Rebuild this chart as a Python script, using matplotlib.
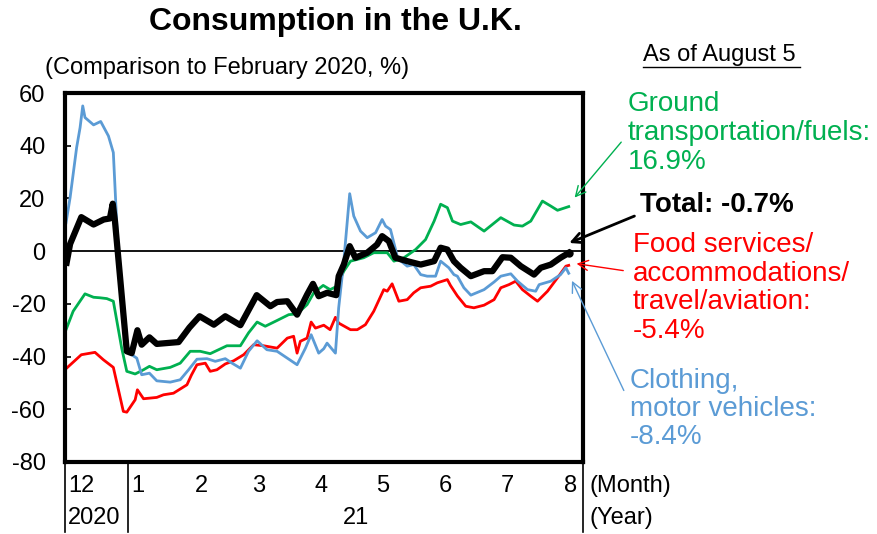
import matplotlib
matplotlib.use("Agg")
import matplotlib.pyplot as plt
from matplotlib.lines import Line2D

plt.rcParams['font.family'] = ['Liberation Sans', 'DejaVu Sans']
plt.rcParams['axes.unicode_minus'] = False

# days counted from 2020-12-01, values in % vs Feb 2020
total_days = [0.8, 2.5, 8, 14, 19, 22, 23.4, 24.5, 30.3, 32.7, 35.5, 37.6, 41.4, 45, 55.7, 61, 66, 73, 78.6, 86,
              94, 100.7, 104, 109, 113.8, 118.7, 121.6, 124.4, 128.5, 133, 134.2, 136.7, 139.6, 142.4, 148.2, 153,
              155.5, 158.8, 162, 167.8, 174.4, 181, 184.2, 187.5, 190.7, 194, 199, 205.5, 209.6, 214.5, 218.6,
              223.5, 230, 233.3, 238.2, 243, 247]
total_vals = [-4.4, 2.7, 12.9, 10.1, 12, 12.4, 18, 11.4, -38, -38.7, -30, -35.5, -32.7, -35.2, -34.5, -29, -24.7,
              -27.9, -24.7, -28.1, -16.7, -20.9, -19.3, -19, -24.1, -16.5, -12.4, -17.1, -15.8, -16.7, -9.5, -5.1,
              1.9, -2.5, -0.6, 2.5, 5.7, 3.8, -2.5, -3.8, -5.1, -3.8, 1.3, 0.6, -3.8, -6.3, -9.5, -7.6, -7.6, -2.3,
              -2.5, -5.7, -8.9, -6.3, -5.1, -2.5, -0.7]

ground_days = [0.5, 4, 9.8, 14, 17.2, 20.5, 23.7, 27.8, 30.3, 34.4, 38.5, 41.4, 45, 51.6, 56.5, 61.4, 66.3, 71.2,
               79.4, 86, 90, 94.2, 98.2, 104, 109.7, 113.8, 118.7, 122, 126.6, 130, 133.4, 136.7, 140, 146.5,
               151.4, 158, 161.3, 166.2, 171.9, 176.8, 181, 184.2, 187.5, 190, 194, 199, 205.5, 213.7, 220.2,
               224.3, 228.4, 234.1, 238.2, 241.5, 247]
ground_vals = [-29.8, -22.8, -16.2, -17.5, -17.7, -18, -19, -36.8, -45.6, -46.6, -45, -43.7, -45, -44.1, -42.5,
               -38, -38, -38.9, -35.9, -35.9, -31, -26.9, -28.5, -26.3, -24.1, -23.8, -20.3, -15.8, -13, -14.6,
               -13.3, -7.6, -3.8, -2.5, -0.6, -0.6, -3.8, -2.5, 0.6, 4.4, 11.4, 17.8, 16.5, 11.4, 10.1, 11.1, 7.6,
               12.7, 9.9, 9.5, 11.4, 19, 17.1, 15.5, 16.9]

food_days = [0.5, 8, 14.7, 18.8, 23.7, 28.6, 30.3, 34.4, 35.5, 38.5, 45, 48.3, 53.2, 59.8, 62, 64.7, 68.8, 71.2,
             74.5, 78.6, 82.7, 87.6, 92.5, 97.4, 104, 109, 112.1, 113.8, 115.4, 118.7, 120.7, 122.8, 126.9, 130,
             132.6, 134.2, 140, 143.3, 147.3, 151.4, 156.3, 158, 160.4, 163.7, 167.8, 171, 174.4, 179.3, 182.6,
             187.5, 189, 192.4, 196.5, 200.5, 205.5, 210.4, 213.7, 217.7, 221, 224.3, 228.4, 231.7, 236.6, 241.5,
             245.6, 247]
food_vals = [-44.6, -39.3, -38.4, -41.2, -44.1, -60.8, -61.1, -56.4, -52.6, -56, -55.5, -54.5, -53.9, -50.7, -47,
             -43.1, -42.5, -45.6, -45, -42.8, -41.6, -39.3, -35.5, -35.9, -36.8, -33, -32.3, -38.7, -34.2, -33,
             -26.9, -29.2, -28.1, -29.8, -25.1, -27.3, -29.8, -29.8, -27.9, -22.8, -14.6, -15.2, -12.4, -19, -18.4,
             -15.8, -13.9, -13.3, -12, -10.8, -13, -17, -20.9, -21.5, -20.5, -18.4, -13.9, -12.7, -11.4, -14.6,
             -17.1, -19, -15.2, -10.1, -5.7, -5.4]

cloth_days = [0.5, 2.5, 5.7, 7.4, 8.7, 9.8, 14, 17.5, 21.3, 23.7, 25.4, 27.8, 30.3, 32.7, 35.2, 37.6, 41.4, 45,
              51.6, 56.5, 60.6, 64.7, 69.6, 73.7, 78.6, 81.9, 86, 90, 94.2, 99, 104, 109, 113.8, 117.9, 120.7,
              124.4, 126.9, 128.5, 132.6, 134.2, 136.7, 139.6, 141.6, 144.9, 148.2, 152.3, 155.5, 157.2, 159.6,
              163.2, 167.8, 171, 174.4, 177.6, 181.7, 184.2, 188.2, 190.7, 192.4, 195.6, 199, 205.5, 210.4, 213.7,
              218.6, 221.9, 226.8, 230.8, 232.5, 238.2, 243, 245.6, 247]
cloth_vals = [10.8, 20.3, 39.3, 46.9, 55.1, 50.7, 47.9, 49.2, 43.7, 37.4, 10.1, -21.5, -35.5, -39.3, -40.6, -46.9,
              -46.3, -49.2, -49.7, -48.8, -45, -41, -40.8, -41.8, -40.8, -42.5, -44.4, -38, -34, -37.4, -38, -40.6,
              -43.1, -36.8, -31.7, -38.7, -37, -34.9, -38.7, -21.5, -3.8, 21.8, 13.3, 7.6, 5.1, 7, 12, 9.5, 8.2,
              -2.8, -5.7, -5.1, -8.9, -9.5, -9.5, -3.8, -6.3, -8.9, -9.5, -13.9, -16.7, -14.6, -11.7, -9.5, -8.6,
              -11.4, -14.6, -15.2, -12.7, -11.4, -8.9, -6.3, -8.4]

month_starts = [0, 31, 62, 90, 121, 151, 182, 212, 243]
month_labels = ['12', '1', '2', '3', '4', '5', '6', '7', '8']

GREEN = '#00B050'
RED = '#FF0000'
BLUE = '#5B9BD5'

fig = plt.figure(figsize=(8.77, 5.34), dpi=100)
ax = fig.add_axes([65/877, 1-462/534, (583-65)/877, (462-93)/534])

ax.axhline(0, color='black', lw=1.3, zorder=1)
ax.plot(ground_days, ground_vals, color=GREEN, lw=2)
ax.plot(food_days, food_vals, color=RED, lw=2)
ax.plot(cloth_days, cloth_vals, color=BLUE, lw=2)
ax.plot(total_days, total_vals, color='black', lw=4.5, solid_joinstyle='round')
ax.plot(total_days[-1:], total_vals[-1:], 'o', color='black', ms=5)

ax.set_xlim(0, 254)
ax.set_ylim(-80, 60)
ax.set_yticks(range(-80, 61, 20))
ax.tick_params(axis='y', direction='in', length=4, width=1.2, labelsize=17, pad=14)
ax.set_xticks([])
for s in ax.spines.values():
    s.set_linewidth(3)

trans = ax.get_xaxis_transform()
for d, lab in zip(month_starts, month_labels):
    ax.text(d + 1.5, -0.065, lab, transform=trans, ha='left', va='center', fontsize=17)
ax.text(257, -0.065, '(Month)', transform=trans, ha='left', va='center', fontsize=17)
ax.text(1.5, -0.152, '2020', transform=trans, ha='left', va='center', fontsize=17)
ax.text((31 + 254) / 2, -0.152, '21', transform=trans, ha='center', va='center', fontsize=17)
ax.text(257, -0.152, '(Year)', transform=trans, ha='left', va='center', fontsize=17)
for d in [0, 31, 254]:
    ax.plot([d, d], [0, -0.19], transform=trans, color='black', lw=1.2, clip_on=False)

fig.text(335/877, 1-22/534, 'Consumption in the U.K.', ha='center', va='center', fontsize=23, fontweight='bold')
fig.text(45/877, 1-68/534, '(Comparison to February 2020, %)', ha='left', va='center', fontsize=17)
fig.text(643/877, 1-55/534, 'As of August 5', ha='left', va='center', fontsize=17)
fig.add_artist(Line2D([643/877, 800/877], [1-67/534, 1-67/534], color='black', lw=1))

fig.text(628/877, 1-133/534, 'Ground\ntransportation/fuels:\n16.9%', ha='left', va='center',
         fontsize=20, color=GREEN, linespacing=1.17)
fig.text(640/877, 1-205/534, 'Total: -0.7%', ha='left', va='center', fontsize=20, fontweight='bold')
fig.text(633/877, 1-288/534, 'Food services/\naccommodations/\ntravel/aviation:\n-5.4%', ha='left',
         va='center', fontsize=20, color=RED, linespacing=1.12)
fig.text(630/877, 1-409/534, 'Clothing,\nmotor vehicles:\n-8.4%', ha='left', va='center',
         fontsize=20, color=BLUE, linespacing=1.1)

arrows = [((249, 19.5), (623, 140), GREEN, 1),
          ((246, 2.7), (637, 215), 'black', 2),
          ((249.5, -4.6), (626, 271), RED, 1),
          ((248, -10.3), (625, 393), BLUE, 1)]
for xy, txt, c, w in arrows:
    ax.annotate('', xy=xy, xycoords='data', xytext=(txt[0], 534 - txt[1]), textcoords='figure pixels',
                arrowprops=dict(arrowstyle='->', color=c, lw=w, mutation_scale=18), annotation_clip=False)

fig.savefig('out.png', dpi=100)
